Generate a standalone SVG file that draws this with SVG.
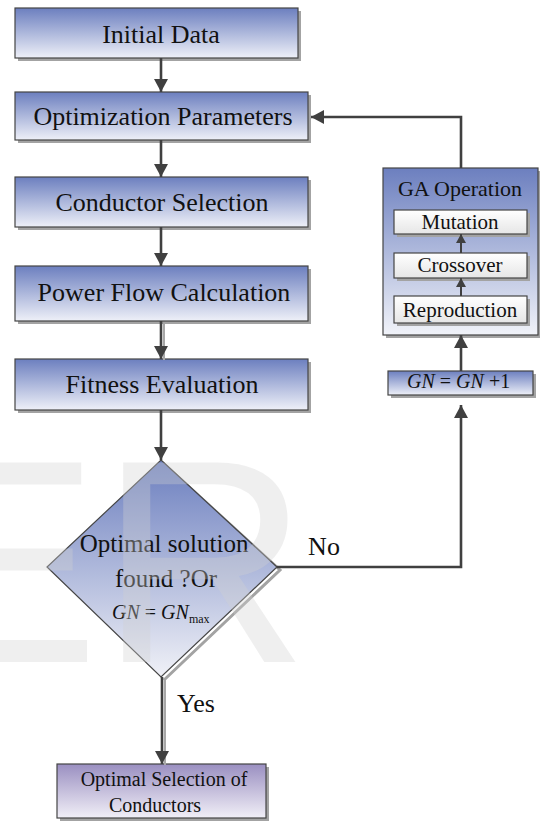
<svg xmlns="http://www.w3.org/2000/svg" width="540" height="821" viewBox="0 0 540 821">
<defs>
<linearGradient id="gBlue" x1="0" y1="0" x2="0" y2="1">
<stop offset="0" stop-color="#6c7fbf"/>
<stop offset="1" stop-color="#eef0f8"/>
</linearGradient>
<linearGradient id="gGA" x1="0" y1="0" x2="0" y2="1">
<stop offset="0" stop-color="#6c7fbf"/>
<stop offset="1" stop-color="#f1f3f9"/>
</linearGradient>
<linearGradient id="gWhite" x1="0" y1="0" x2="0" y2="1">
<stop offset="0" stop-color="#ffffff"/>
<stop offset="1" stop-color="#e6e6e6"/>
</linearGradient>
<linearGradient id="gPurple" x1="0" y1="0" x2="0" y2="1">
<stop offset="0" stop-color="#9a8fc1"/>
<stop offset="1" stop-color="#f1eff7"/>
</linearGradient>
<linearGradient id="gDiamond" x1="0" y1="0" x2="0" y2="1">
<stop offset="0" stop-color="#6c7fbf"/>
<stop offset="1" stop-color="#f0f1f7"/>
</linearGradient>
<marker id="arr" markerUnits="userSpaceOnUse" markerWidth="14" markerHeight="14" refX="13" refY="7" orient="auto">
<path d="M0,0 L13,7 L0,14 z" fill="#404040"/>
</marker>
<marker id="arrS" markerUnits="userSpaceOnUse" markerWidth="10" markerHeight="10" refX="9" refY="5" orient="auto">
<path d="M0,0 L9,5 L0,10 z" fill="#404040"/>
</marker>
</defs>
<style>
.box{stroke:#454545;stroke-width:1.2}
.shadow{fill:#a3a3a3}
.t{font-family:'Liberation Serif','DejaVu Serif',serif;fill:#111;text-anchor:middle}
.ti{font-family:'Liberation Serif','DejaVu Serif',serif;font-style:italic;fill:#111}
.conn{stroke:#404040;stroke-width:2.6;fill:none}
.connS{stroke:#404040;stroke-width:2;fill:none}
.sh{stroke:#a8a8a8;stroke-width:2;fill:none}
</style>

<g id="initial-data">
<rect class="shadow" x="18" y="11" width="283" height="50"/>
<rect class="box" x="15" y="8" width="283" height="50" fill="url(#gBlue)"/>
<text class="t" font-family="Liberation Serif" x="161" y="43" font-size="26">Initial Data</text>
</g>

<g id="optimization-parameters">
<rect class="shadow" x="18" y="95" width="293" height="48"/>
<rect class="box" x="15" y="92" width="293" height="48" fill="url(#gBlue)"/>
<text class="t" font-family="Liberation Serif" x="163" y="125" font-size="26">Optimization Parameters</text>
</g>

<g id="conductor-selection">
<rect class="shadow" x="18" y="180" width="293" height="50"/>
<rect class="box" x="15" y="177" width="293" height="50" fill="url(#gBlue)"/>
<text class="t" font-family="Liberation Serif" x="162" y="211" font-size="26">Conductor Selection</text>
</g>

<g id="power-flow-calculation">
<rect class="shadow" x="18" y="269" width="293" height="55"/>
<rect class="box" x="15" y="266" width="293" height="55" fill="url(#gBlue)"/>
<text class="t" font-family="Liberation Serif" x="164" y="301" font-size="26">Power Flow Calculation</text>
</g>

<g id="fitness-evaluation">
<rect class="shadow" x="18" y="362" width="293" height="51"/>
<rect class="box" x="15" y="359" width="293" height="51" fill="url(#gBlue)"/>
<text class="t" font-family="Liberation Serif" x="162" y="393" font-size="26">Fitness Evaluation</text>
</g>

<g id="decision">
<path d="M163,463 L280,570 L164,680" fill="none" stroke="#a3a3a3" stroke-width="3"/>
<path class="box" d="M161,460 L277,567 L161,677 L47,567 Z" fill="url(#gDiamond)"/>
<text class="t" font-family="Liberation Serif" x="164" y="552" font-size="25">Optimal solution</text>
<text class="t" font-family="Liberation Serif" x="166" y="587" font-size="25">found ?Or</text>
<text class="ti" font-family="Liberation Serif" x="112" y="619" font-size="20">GN <tspan font-style="normal">=</tspan> GN<tspan font-style="normal" font-size="12" dy="4">max</tspan></text>
</g>

<g id="gn-increment">
<rect class="shadow" x="391" y="374" width="145" height="24"/>
<rect class="box" x="388" y="371" width="145" height="24" fill="url(#gBlue)"/>
<text class="ti" font-family="Liberation Serif" x="407" y="388" font-size="20">GN <tspan font-style="normal">=</tspan> GN <tspan font-style="normal">+1</tspan></text>
</g>

<g id="ga-operation">
<rect class="shadow" x="386" y="171" width="155" height="167"/>
<rect class="box" x="383" y="168" width="155" height="167" fill="url(#gGA)"/>
<text class="t" font-family="Liberation Serif" x="460" y="196" font-size="22">GA Operation</text>
</g>

<g id="mutation">
<rect class="shadow" x="397" y="213" width="133" height="24"/>
<rect class="box" x="394" y="210" width="133" height="24" fill="url(#gWhite)"/>
<text class="t" font-family="Liberation Serif" x="460" y="229" font-size="21">Mutation</text>
</g>

<g id="crossover">
<rect class="shadow" x="397" y="256" width="133" height="25"/>
<rect class="box" x="394" y="253" width="133" height="25" fill="url(#gWhite)"/>
<text class="t" font-family="Liberation Serif" x="460" y="272" font-size="21">Crossover</text>
</g>

<g id="reproduction">
<rect class="shadow" x="397" y="299" width="133" height="27"/>
<rect class="box" x="394" y="296" width="133" height="27" fill="url(#gWhite)"/>
<text class="t" font-family="Liberation Serif" x="460" y="317" font-size="21">Reproduction</text>
</g>

<g id="optimal-selection">
<rect class="shadow" x="60" y="767" width="209" height="54"/>
<rect class="box" x="57" y="764" width="209" height="54" fill="url(#gPurple)"/>
<text class="t" font-family="Liberation Serif" x="164" y="786" font-size="20">Optimal Selection of</text>
<text class="t" font-family="Liberation Serif" x="155" y="812" font-size="20">Conductors</text>
</g>

<g id="connectors">
<line class="conn" x1="161" y1="58" x2="161" y2="92" marker-end="url(#arr)"/>
<line class="conn" x1="161" y1="140" x2="161" y2="177" marker-end="url(#arr)"/>
<line class="conn" x1="161" y1="227" x2="161" y2="266" marker-end="url(#arr)"/>
<line class="sh" x1="164" y1="324" x2="164" y2="360"/>
<line class="conn" x1="161" y1="321" x2="161" y2="359" marker-end="url(#arr)"/>
<line class="conn" x1="161" y1="410" x2="161" y2="460" marker-end="url(#arr)"/>
<path class="conn" d="M277,567 H461 V405" marker-end="url(#arr)"/>
<line class="conn" x1="461" y1="371" x2="461" y2="335" marker-end="url(#arr)"/>
<path class="conn" d="M461,168 V117 H311" marker-end="url(#arr)"/>
<line class="connS" x1="461" y1="296" x2="461" y2="278" marker-end="url(#arrS)"/>
<line class="connS" x1="461" y1="253" x2="461" y2="234" marker-end="url(#arrS)"/>
<line class="sh" x1="165" y1="680" x2="165" y2="765"/>
<line class="conn" x1="162" y1="677" x2="162" y2="764" marker-end="url(#arr)"/>
<text class="t" font-family="Liberation Serif" x="324" y="555" font-size="26">No</text>
<text class="t" font-family="Liberation Serif" x="196" y="712" font-size="26">Yes</text>
</g>

<text x="-94" y="662" font-family="Liberation Sans, Arial, sans-serif" font-size="290" fill="#d0d0d0" fill-opacity="0.35">ER</text>
</svg>
